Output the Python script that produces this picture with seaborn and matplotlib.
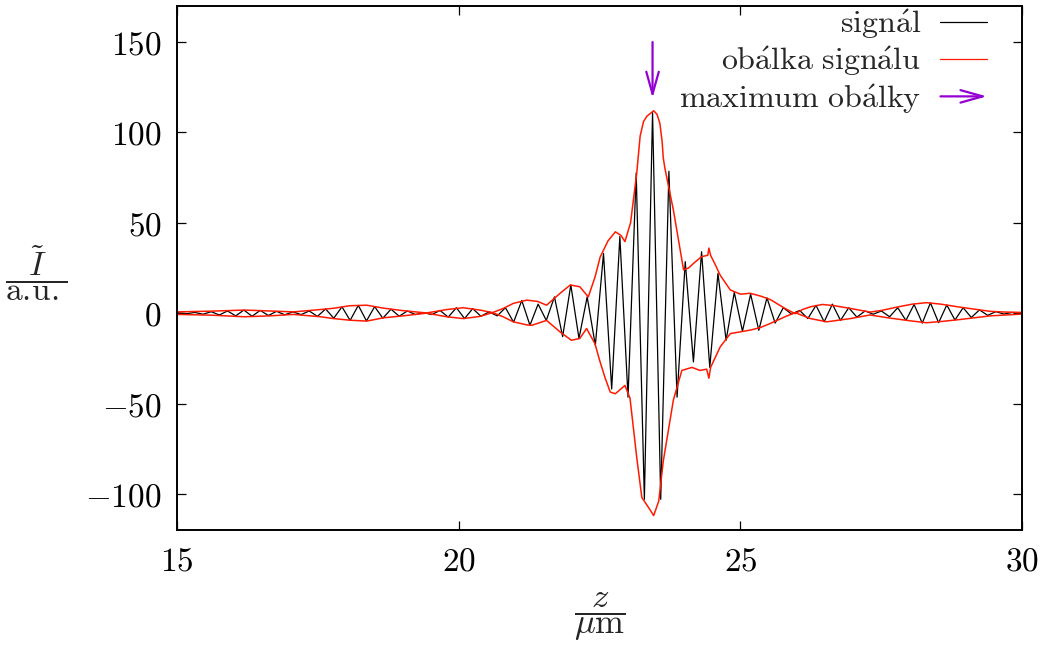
import numpy as np
import pandas as pd
import matplotlib
matplotlib.use("Agg")
import matplotlib.pyplot as plt
import seaborn as sns
from matplotlib.lines import Line2D
from matplotlib.patches import FancyArrowPatch
from matplotlib.legend_handler import HandlerBase
from matplotlib.ticker import FuncFormatter, FixedLocator

# ---------------- data ----------------
# signal extrema positions (µm) and values (a.u.)
signal_z = [15.03, 15.175, 15.32, 15.465, 15.61, 15.755, 15.90, 16.045, 16.19, 16.335,
            16.48, 16.625, 16.77, 16.915, 17.06, 17.205, 17.35, 17.495, 17.64, 17.785,
            17.93, 18.075, 18.22, 18.365, 18.51, 18.655, 18.80, 18.945, 19.09, 19.235,
            19.38, 19.525, 19.67, 19.815, 19.96, 20.105, 20.25, 20.395, 20.54, 20.685,
            20.83, 20.975, 21.12, 21.265, 21.41, 21.555, 21.70, 21.845, 21.99, 22.135,
            22.28, 22.425, 22.57, 22.715, 22.86, 23.005, 23.15, 23.295, 23.44, 23.585,
            23.73, 23.875, 24.02, 24.165, 24.31, 24.455, 24.60, 24.745, 24.89, 25.035,
            25.18, 25.325, 25.47, 25.615, 25.76, 25.905, 26.05, 26.195, 26.34, 26.485,
            26.63, 26.775, 26.92, 27.065, 27.21, 27.355, 27.50, 27.645, 27.79, 27.935,
            28.08, 28.225, 28.37, 28.515, 28.66, 28.805, 28.95, 29.095, 29.24, 29.385,
            29.53, 29.675, 29.82, 29.965]
signal_I = [0.2, -0.3, 0.4, -0.6, 0.8, -1.0, 1.2, -1.5, 1.7, -1.7,
            1.5, -1.3, 1.0, -0.9, 0.7, -0.8, 1.2, -1.8, 2.3, -2.8,
            3.5, -4.0, 4.3, -4.3, 3.6, -2.8, 2.2, -1.7, 1.2, -0.8,
            0.3, -0.8, 1.5, -2.2, 3.0, -3.0, 2.5, -1.7, 0.7, -1.5,
            3.0, -5.0, 7.0, -6.7, 5.0, -4.0, 9.0, -13.0, 15.6, -14.0,
            9.0, -17.8, 33.0, -42.0, 42.4, -46.5, 77.6, -103.0, 111.0, -103.0,
            78.5, -46.5, 28.5, -27.0, 34.0, -30.0, 22.0, -15.0, 11.5, -10.0,
            10.5, -9.5, 8.5, -5.5, 3.0, -0.5, 1.5, -3.0, 4.3, -4.8,
            5.0, -4.0, 3.0, -2.2, 1.2, -0.6, 1.2, -2.0, 3.0, -4.0,
            4.8, -5.5, 5.7, -5.3, 4.5, -3.8, 3.0, -2.4, 1.8, -1.2,
            0.8, -0.5, 0.4, -0.3]

env_up_z = [15.0, 15.6, 16.2, 16.65, 17.07, 17.55, 17.78, 18.07, 18.37, 18.66,
            19.01, 19.43, 19.79, 20.08, 20.38, 20.6, 20.79, 20.97, 21.21, 21.4,
            21.56, 21.8, 21.98, 22.15, 22.3, 22.42, 22.51, 22.65, 22.78, 22.88,
            22.95, 23.05, 23.16, 23.22, 23.28, 23.34, 23.46, 23.52, 23.57, 23.61,
            23.63, 23.66, 23.81, 23.93, 23.99, 24.08, 24.17, 24.31, 24.42, 24.44,
            24.47, 24.55, 24.64, 24.82, 25.0, 25.17, 25.35, 25.53, 25.79, 25.97,
            26.1, 26.24, 26.45, 26.65, 26.95, 27.3, 27.5, 27.8, 28.05, 28.3,
            28.55, 28.9, 29.2, 29.43, 29.7, 30.0]
env_up_I = [0.7, 1.1, 1.7, 1.2, 0.7, 2.0, 2.7, 4.1, 4.4, 2.8,
            1.4, 0.1, 2.0, 3.0, 1.7, 0.3, 2.6, 5.4, 7.2, 6.5,
            4.4, 11.0, 15.6, 14.6, 9.0, 20.0, 31.0, 40.0, 45.0, 43.0,
            39.6, 50.0, 77.6, 98.0, 106.0, 109.0, 112.0, 110.0, 105.0, 95.0,
            86.0, 80.0, 57.0, 35.0, 24.0, 25.0, 27.6, 31.3, 32.0, 36.0,
            32.0, 27.0, 21.0, 12.8, 10.5, 11.0, 9.5, 7.5, 2.6, -0.3,
            2.0, 3.5, 4.8, 4.2, 2.6, 0.6, 1.5, 3.5, 5.0, 5.8,
            5.0, 3.3, 2.0, 1.0, 0.6, 0.4]

env_lo_z = [15.0, 15.6, 16.2, 16.65, 17.07, 17.55, 17.78, 18.07, 18.37, 18.66,
            19.01, 19.43, 19.79, 20.08, 20.38, 20.6, 20.79, 20.97, 21.21, 21.3,
            21.56, 21.8, 22.0, 22.15, 22.27, 22.42, 22.5, 22.6, 22.69, 22.78,
            22.95, 23.04, 23.16, 23.25, 23.37, 23.46, 23.55, 23.63, 23.81, 23.96,
            24.14, 24.28, 24.40, 24.44, 24.47, 24.64, 24.82, 25.17, 25.35, 25.53,
            25.79, 25.97, 26.24, 26.53, 26.95, 27.3, 27.6, 28.0, 28.3, 28.6,
            28.9, 29.43, 30.0]
env_lo_I = [-0.7, -1.1, -2.0, -1.5, -0.7, -2.0, -3.0, -3.9, -4.4, -2.6,
            -1.5, 0.0, -2.0, -3.0, -1.8, 0.3, -2.0, -4.8, -6.5, -6.7,
            -4.0, -10.4, -15.0, -14.0, -8.5, -17.0, -26.0, -36.0, -43.7, -44.6,
            -40.0, -47.0, -80.0, -102.0, -107.6, -112.0, -104.0, -82.0, -48.0, -31.7,
            -30.0, -31.7, -31.0, -36.0, -30.0, -18.7, -11.3, -9.4, -8.0, -5.7,
            -2.0, 0.3, -3.0, -4.8, -3.0, -1.0, -2.5, -4.2, -5.3, -4.5,
            -3.5, -1.5, -0.5]

max_z = 23.44
arrow_from = 150.0
arrow_to = 119.0

x_ticks = [15, 20, 25, 30]
y_ticks = [-100, -50, 0, 50, 100, 150]
labels = [r"$\mathrm{sign\acute{a}l}$",
          r"$\mathrm{ob\acute{a}lka\ sign\acute{a}lu}$",
          r"$\mathrm{maximum\ ob\acute{a}lky}$"]

# ---------------- style ----------------
sns.set_theme(style="white")
plt.rcParams["mathtext.fontset"] = "cm"
plt.rcParams["font.family"] = ["DejaVu Serif"]

RED = "#ff1a00"
VIOLET = "#9400d3"
ARROW = "->,head_length=1.6,head_width=0.45"

fig = plt.figure(figsize=(10.4, 6.58), dpi=100)
ax = fig.add_axes([0.170, 0.1945, 0.813, 0.7965])

sig = pd.DataFrame({"z": signal_z, "I": signal_I})
up = pd.DataFrame({"z": env_up_z, "I": env_up_I})
lo = pd.DataFrame({"z": env_lo_z, "I": env_lo_I})

sns.lineplot(data=sig, x="z", y="I", ax=ax, color="black", lw=0.9,
             estimator=None, sort=False)
sns.lineplot(data=up, x="z", y="I", ax=ax, color=RED, lw=1.1,
             estimator=None, sort=False)
sns.lineplot(data=lo, x="z", y="I", ax=ax, color=RED, lw=1.1,
             estimator=None, sort=False)

ax.annotate("", xy=(max_z, arrow_to), xytext=(max_z, arrow_from),
            arrowprops=dict(arrowstyle=ARROW, color=VIOLET, lw=1.6,
                            shrinkA=0, shrinkB=0, mutation_scale=10))

ax.set_xlim(15, 30)
ax.set_ylim(-120, 170)
ax.xaxis.set_major_locator(FixedLocator(x_ticks))
ax.yaxis.set_major_locator(FixedLocator(y_ticks))
fmt = FuncFormatter(lambda v, p: r"$%d$" % v)
ax.xaxis.set_major_formatter(fmt)
ax.yaxis.set_major_formatter(fmt)
ax.tick_params(axis="both", which="major", direction="in", length=6.5, width=0.9,
               top=True, right=True, bottom=True, left=True, labelsize=24,
               colors="black", pad=11)
for s in ax.spines.values():
    s.set_linewidth(1.4)
    s.set_color("black")

ax.set_xlabel(r"$\dfrac{z}{\mathrm{\mu m}}$", fontsize=25)
ax.xaxis.set_label_coords(0.5, -0.115)
ax.xaxis.label.set_va("top")
ax.set_ylabel(r"$\dfrac{\tilde{I}}{\mathrm{a.\!u.}}$", fontsize=24, rotation=0,
              va="center", ha="center")
ax.yaxis.set_label_coords(-0.166, 0.49)


class ArrowHandler(HandlerBase):
    def create_artists(self, legend, orig_handle, xdescent, ydescent, width,
                       height, fontsize, trans):
        y = height / 2 - ydescent
        a = FancyArrowPatch((-xdescent, y), (width - xdescent, y),
                            arrowstyle=ARROW, color=VIOLET, lw=1.6,
                            mutation_scale=10, transform=trans,
                            shrinkA=0, shrinkB=0)
        return [a]


arrow_handle = Line2D([], [], color=VIOLET)
handles = [Line2D([], [], color="black", lw=0.9),
           Line2D([], [], color=RED, lw=0.9),
           arrow_handle]
leg = ax.legend(handles, labels, loc="upper right", bbox_to_anchor=(0.992, 1.052),
                frameon=False, markerfirst=False, fontsize=23,
                handlelength=1.45, handletextpad=0.6, labelspacing=0.1,
                handler_map={arrow_handle: ArrowHandler()})

fig.savefig("out.png", dpi=100)
